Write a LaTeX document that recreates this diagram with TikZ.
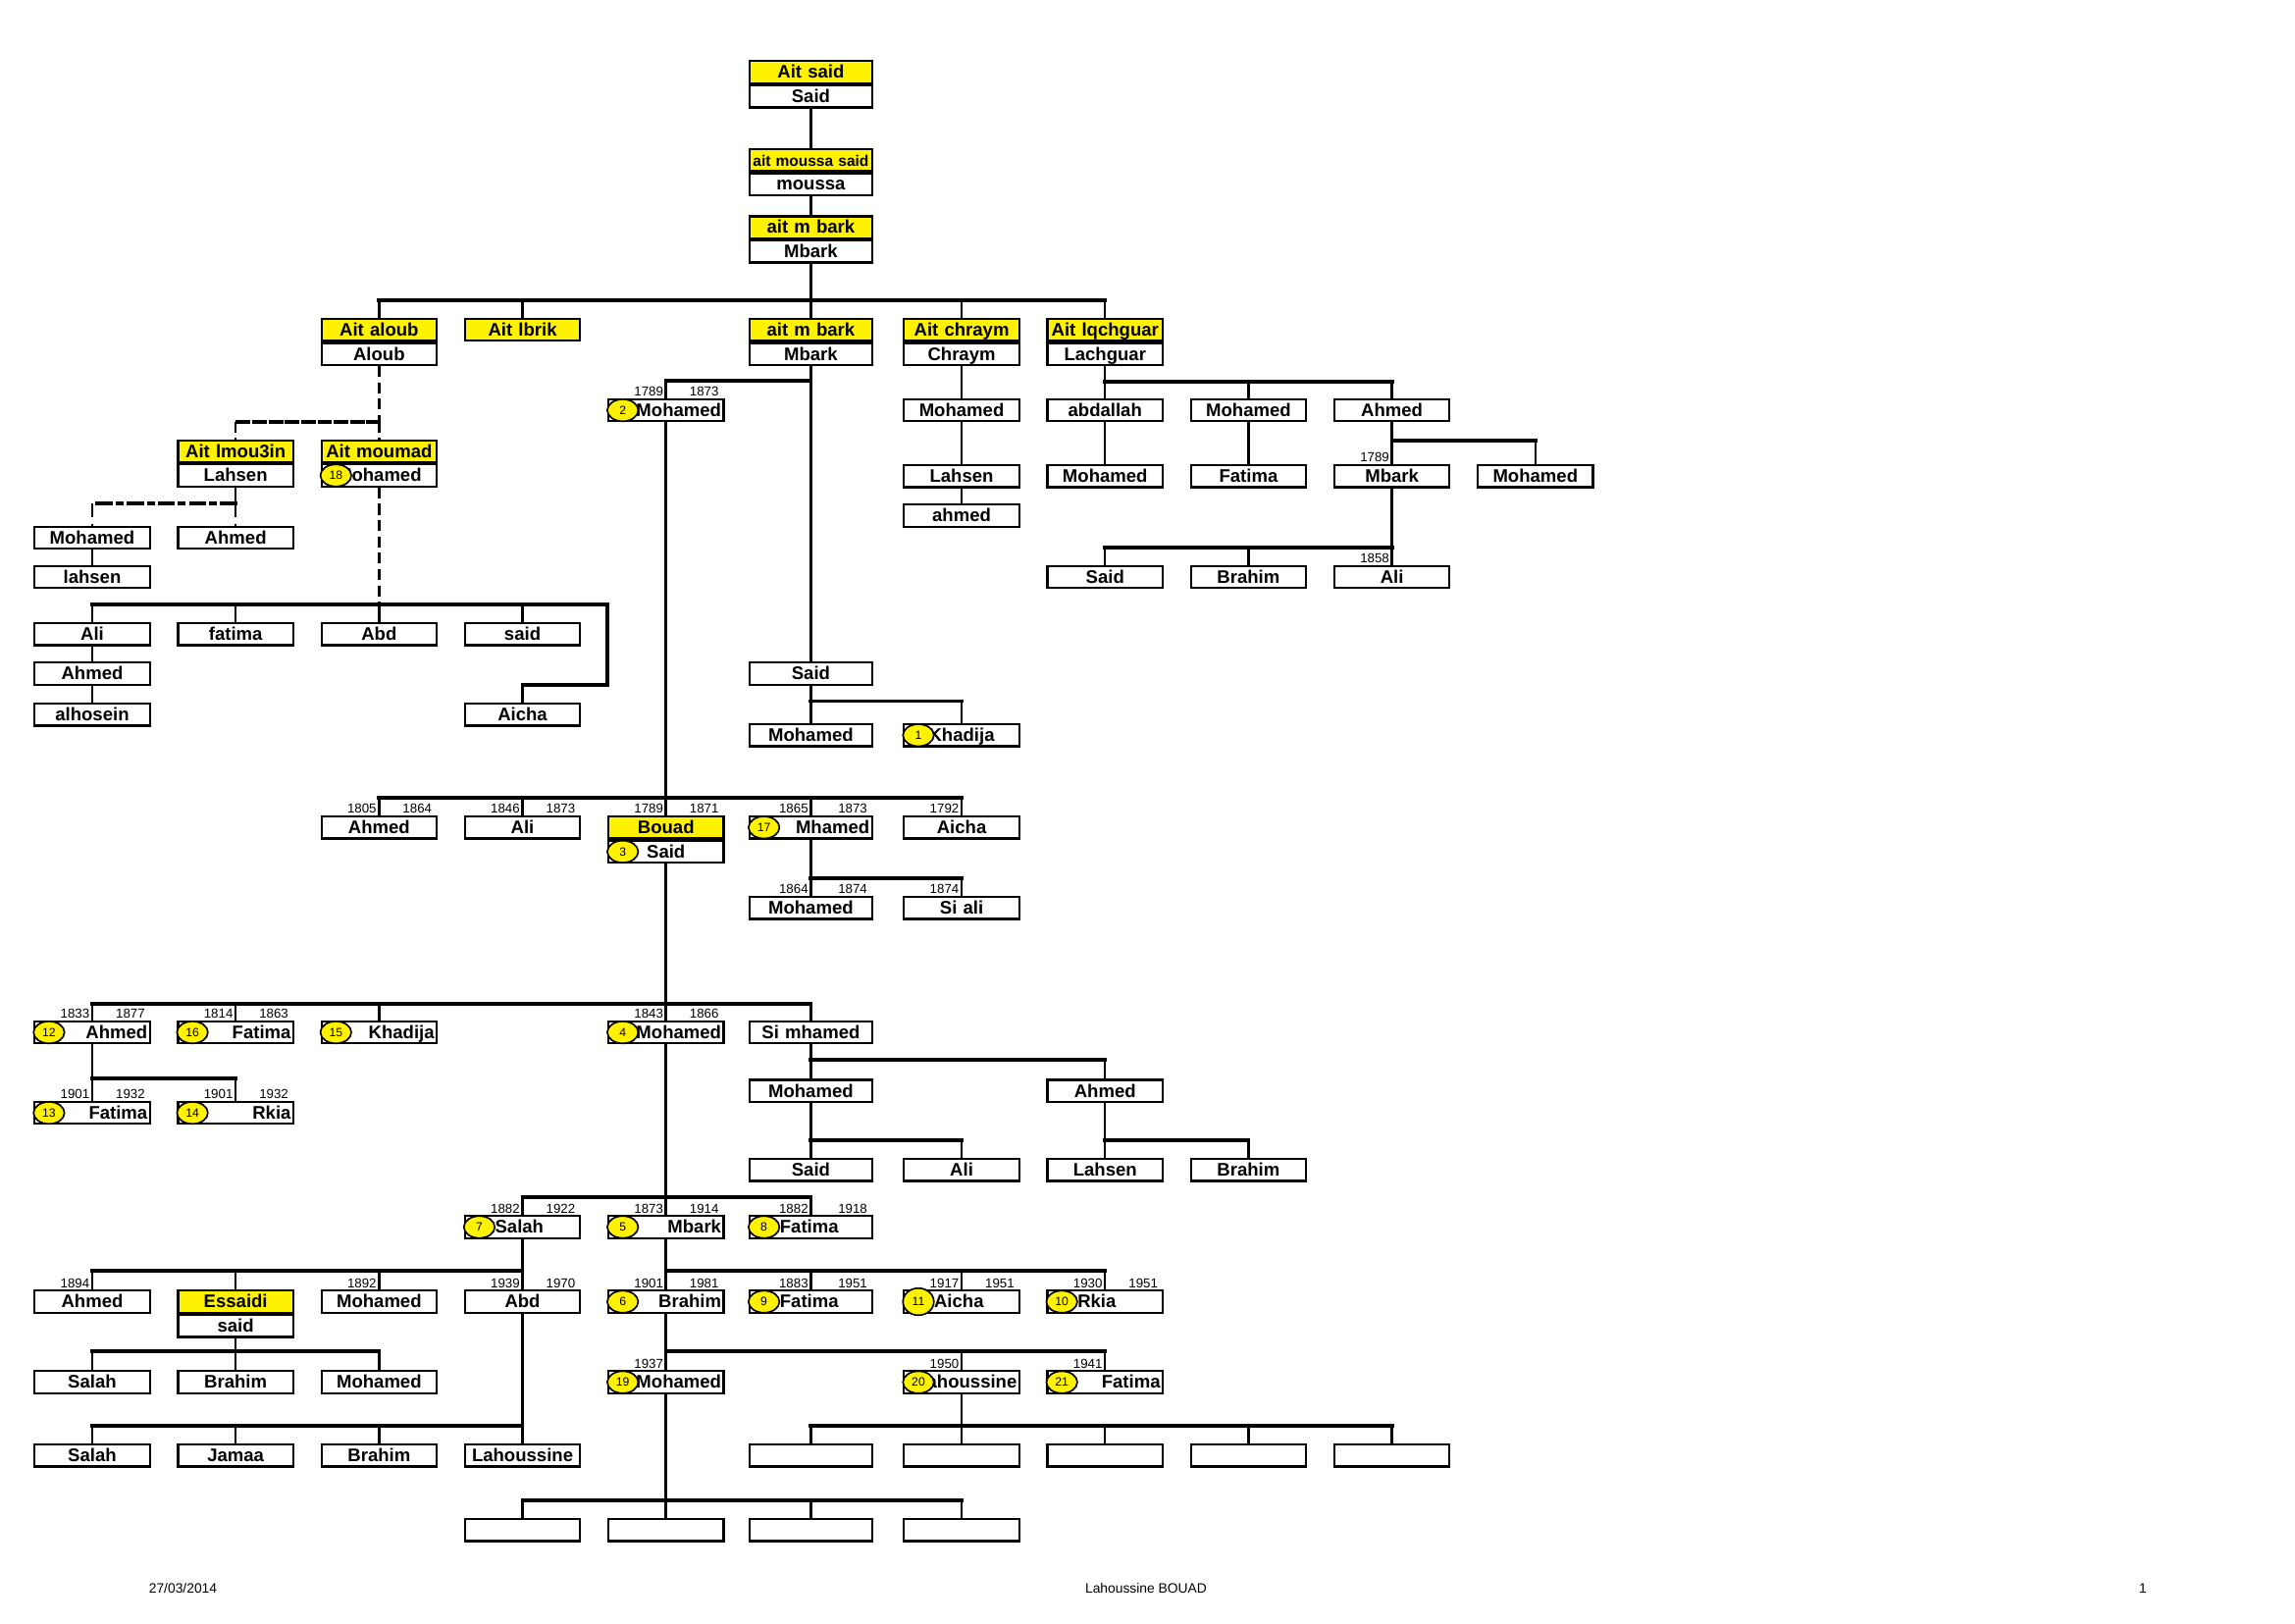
\documentclass[tikz,border=0pt]{standalone}
\usepackage{fontspec}
\setmainfont{Liberation Sans}
\usepackage{tikz}
\usetikzlibrary{positioning}
\usetikzlibrary{shapes.geometric}
\newcommand{\boxfont}{\fontsize{6.7}{7}\selectfont\bfseries}
\newcommand{\smallhead}{\fontsize{5.6}{6}\selectfont\bfseries}
\newcommand{\yrfont}{\fontsize{4.8}{5}\selectfont}
\newcommand{\ringfont}{\fontsize{4.4}{5}\selectfont}
\newcommand{\footfont}{\fontsize{5}{6}\selectfont}
\newcommand{\ringgap}{\hspace*{0.36cm}}
\newcommand{\pers}[5][]{\node[pbox,#1] (#2) at (#3,#4) {#5};}
\newcommand{\clan}[6][]{\node[pbox,head,#1] (#2) at (#3,#4) {#5};
  \node[pbox,#1,below=0pt of #2] (#2-b) {#6};}
\newcommand{\kin}[3][12]{\path (#3.north) ++(0,-#1) coordinate (#3-bus);
  \draw[upstem] (#2.south) -- (#2.south |- #3-bus);
  \draw[bus] (#2.south |- #3-bus) -- (#3-bus);
  \draw[stem] (#3-bus) -- (#3.north);}
\newcommand{\descend}[2]{\draw[stem] (#1.south) -- (#2.north);}
\newcommand{\yrborn}[2]{\node[yr,anchor=south east] (#1-born) at ([xshift=-0.3pt]#1.north) {#2};}
\newcommand{\yrdied}[2]{\node[yr,anchor=south east] (#1-died) at ([xshift=-1.5pt]#1.north east) {#2};}
\newcommand{\badge}[3][]{\node[ring,#1] (#2-ring) at ([xshift=0.2cm]#2.west) {#3};}
\tikzset{
  pbox/.style={draw, line width=0.8pt, fill=white, rectangle, anchor=north, inner sep=0pt,
    minimum width=1.49cm, minimum height=0.285cm, text width=1.43cm, align=center,
    text height=0.2cm, text depth=0.04cm, font=\boxfont},
  wide/.style={minimum width=1.585cm, text width=1.52cm},
  head/.style={fill=yellow},
  flushr/.style={align=right},
  flushl/.style={align=left},
  stem/.style={line width=0.9pt},
  upstem/.style={stem},
  bus/.style={line width=1.4pt, line cap=rect},
  broken/.style={dash pattern=on 4pt off 2pt},
  mixline/.style={dash pattern=on 5pt off 2.5pt on 1.5pt off 2.5pt},
  yr/.style={font=\yrfont, inner sep=0.5pt},
  ring/.style={ellipse, draw, line width=0.6pt, fill=yellow, minimum width=0.4cm,
    minimum height=0.285cm, inner sep=0pt, font=\ringfont},
  foot/.style={font=\footfont, inner sep=0pt}
}
\begin{document}
\begin{tikzpicture}[x=0.01894cm, y=-0.01894cm]
        \fill[white] (0,0) rectangle (1568,1109);
        \useasboundingbox (0,0) rectangle (1568,1109);
        %nodes
        \clan[wide]{aitsaid}{554}{41}{Ait said}{Said}
        \node[pbox,head,wide,font=\smallhead] (moussa) at (554,101) {ait moussa said};
        \node[pbox,wide,below=0pt of moussa] (moussa-b) {moussa};
        \clan[wide]{mbarkA}{554}{147}{ait m bark}{Mbark}
        \clan{aloub}{259}{217}{Ait aloub}{Aloub}
        \pers[head]{lbrik}{357}{217}{Ait lbrik}
        \clan[wide]{mbarkB}{554}{217}{ait m bark}{Mbark}
        \clan{chraym}{657}{217}{Ait chraym}{Chraym}
        \clan{lqch}{755}{217}{Ait lqchguar}{Lachguar}
        \pers[flushr]{moh2}{455}{272}{Mohamed}
        \pers{mohG}{657}{272}{Mohamed}
        \pers{abdallah}{755}{272}{abdallah}
        \pers{mohI}{853}{272}{Mohamed}
        \pers{ahmedJ}{951}{272}{Ahmed}
        \clan{lmou}{161}{300}{Ait lmou3in}{Lahsen}
        \clan{moumad}{259}{300}{Ait moumad}{Mohamed}
        \pers{lahsenG}{657}{317}{Lahsen}
        \pers{mohH}{755}{317}{Mohamed}
        \pers{fatimaI}{853}{317}{Fatima}
        \pers{mbarkJ}{951}{317}{Mbark}
        \pers{mohK}{1049}{317}{Mohamed}
        \pers{ahmedG}{657}{344}{ahmed}
        \pers{mohA}{63}{359}{Mohamed}
        \pers{ahmedB}{161}{359}{Ahmed}
        \pers{lahsenA}{63}{386}{lahsen}
        \pers{saidH}{755}{386}{Said}
        \pers{brahimI}{853}{386}{Brahim}
        \pers{aliJ}{951}{386}{Ali}
        \pers{aliA}{63}{425}{Ali}
        \pers{fatimaB}{161}{425}{fatima}
        \pers{abdC}{259}{425}{Abd}
        \pers{saidD}{357}{425}{said}
        \pers{ahmedA}{63}{452}{Ahmed}
        \pers[wide]{saidF}{554}{452}{Said}
        \pers{alhosein}{63}{480}{alhosein}
        \pers{aichaD}{357}{480}{Aicha}
        \pers[wide]{mohF}{554}{494}{Mohamed}
        \pers{khadija1}{657}{494}{Khadija}
        \pers{ahmedC}{259}{557}{Ahmed}
        \pers{aliD}{357}{557}{Ali}
        \clan{bouad}{455}{557}{Bouad}{Said}
        \pers[wide,flushr]{mhamed}{554}{557}{Mhamed}
        \pers{aichaG}{657}{557}{Aicha}
        \pers[wide]{mohF2}{554}{612}{Mohamed}
        \pers{siali}{657}{612}{Si ali}
        \pers[flushr]{ahmed12}{63}{697}{Ahmed}
        \pers[flushr]{fatima16}{161}{697}{Fatima}
        \pers[flushr]{khadija15}{259}{697}{Khadija}
        \pers[flushr]{moh4}{455}{697}{Mohamed}
        \pers[wide]{simhamed}{554}{697}{Si mhamed}
        \pers[wide]{mohF3}{554}{737}{Mohamed}
        \pers{ahmedH}{755}{737}{Ahmed}
        \pers[flushr]{fatima13}{63}{752}{Fatima}
        \pers[flushr]{rkia14}{161}{752}{Rkia}
        \pers[wide]{saidF2}{554}{791}{Said}
        \pers{aliG}{657}{791}{Ali}
        \pers{lahsenH}{755}{791}{Lahsen}
        \pers{brahimI2}{853}{791}{Brahim}
        \pers[flushl]{salah7}{357}{830}{\ringgap Salah}
        \pers[flushr]{mbark5}{455}{830}{Mbark}
        \pers[wide,flushl]{fatima8}{554}{830}{\ringgap Fatima}
        \pers{ahmedA2}{63}{881}{Ahmed}
        \clan{essaidi}{161}{881}{Essaidi}{said}
        \pers{mohC}{259}{881}{Mohamed}
        \pers{abdD}{357}{881}{Abd}
        \pers[flushr]{brahim6}{455}{881}{Brahim}
        \pers[wide,flushl]{fatima9}{554}{881}{\ringgap Fatima}
        \pers[flushl]{aicha11}{657}{881}{\ringgap Aicha}
        \pers[flushl]{rkia10}{755}{881}{\ringgap Rkia}
        \pers{salahA}{63}{936}{Salah}
        \pers{brahimB}{161}{936}{Brahim}
        \pers{mohC2}{259}{936}{Mohamed}
        \pers[flushr]{moh19}{455}{936}{Mohamed}
        \pers[flushr]{lahou20}{657}{936}{Lahoussine}
        \pers[flushr]{fatima21}{755}{936}{Fatima}
        \pers{salahA2}{63}{986}{Salah}
        \pers{jamaa}{161}{986}{Jamaa}
        \pers{brahimC}{259}{986}{Brahim}
        \pers{lahouD}{357}{986}{Lahoussine}
        \pers[wide]{kidF}{554}{986}{}
        \pers{kidG}{657}{986}{}
        \pers{kidH}{755}{986}{}
        \pers{kidI}{853}{986}{}
        \pers{kidJ}{951}{986}{}
        \pers{grandD}{357}{1037}{}
        \pers{grandE}{455}{1037}{}
        \pers[wide]{grandF}{554}{1037}{}
        \pers{grandG}{657}{1037}{}
        %edges
        \descend{aitsaid-b}{moussa}
        \descend{moussa-b}{mbarkA}
        \kin{mbarkA-b}{aloub} \kin{mbarkA-b}{lbrik} \kin{mbarkA-b}{mbarkB}
        \kin{mbarkA-b}{chraym} \kin{mbarkA-b}{lqch}
        \kin{mbarkB-b}{moh2}
        \descend{mbarkB-b}{saidF}
        \descend{chraym-b}{mohG} \descend{mohG}{lahsenG} \descend{lahsenG}{ahmedG}
        \kin[11]{lqch-b}{abdallah} \kin[11]{lqch-b}{mohI} \kin[11]{lqch-b}{ahmedJ}
        \descend{abdallah}{mohH} \descend{mohI}{fatimaI}
        \kin[16]{ahmedJ}{mbarkJ} \kin[16]{ahmedJ}{mohK}
        \kin{mbarkJ}{saidH} \kin{mbarkJ}{brahimI} \kin{mbarkJ}{aliJ}
        \begin{scope}[upstem/.style={stem,broken}, stem/.append style={broken}, bus/.append style={broken}]
          \kin{aloub-b}{lmou} \kin{aloub-b}{moumad}
        \end{scope}
        \begin{scope}[upstem/.style={stem,mixline}, stem/.append style={mixline}, bus/.append style={mixline}]
          \kin[15]{lmou-b}{mohA} \kin[15]{lmou-b}{ahmedB}
        \end{scope}
        \descend{mohA}{lahsenA}
        \begin{scope}[upstem/.style={stem,broken}]
          \kin{moumad-b}{aliA} \kin{moumad-b}{fatimaB} \kin{moumad-b}{abdC} \kin{moumad-b}{saidD}
        \end{scope}
        \path (aichaD.north) ++(0,-12) coordinate (aichaD-bus);
        \draw[bus] (saidD-bus) -- ++(58,0) |- (aichaD-bus);
        \draw[stem] (aichaD-bus) -- (aichaD.north);
        \descend{aliA}{ahmedA} \descend{ahmedA}{alhosein}
        \kin[15]{saidF}{mohF} \kin[15]{saidF}{khadija1}
        \kin{moh2}{ahmedC} \kin{moh2}{aliD} \kin{moh2}{bouad} \kin{moh2}{mhamed} \kin{moh2}{aichaG}
        \kin{mhamed}{mohF2} \kin{mhamed}{siali}
        \kin[11]{bouad-b}{ahmed12} \kin[11]{bouad-b}{fatima16} \kin[11]{bouad-b}{khadija15}
        \kin[11]{bouad-b}{moh4} \kin[11]{bouad-b}{simhamed}
        \kin[15]{ahmed12}{fatima13} \kin[15]{ahmed12}{rkia14}
        \kin[13]{simhamed}{mohF3} \kin[13]{simhamed}{ahmedH}
        \kin{mohF3}{saidF2} \kin{mohF3}{aliG}
        \kin{ahmedH}{lahsenH} \kin{ahmedH}{brahimI2}
        \kin{moh4}{salah7} \kin{moh4}{mbark5} \kin{moh4}{fatima8}
        \kin[13]{salah7}{ahmedA2} \kin[13]{salah7}{essaidi} \kin[13]{salah7}{mohC} \kin[13]{salah7}{abdD}
        \kin[13]{mbark5}{brahim6} \kin[13]{mbark5}{fatima9} \kin[13]{mbark5}{aicha11} \kin[13]{mbark5}{rkia10}
        \kin[13]{essaidi-b}{salahA} \kin[13]{essaidi-b}{brahimB} \kin[13]{essaidi-b}{mohC2}
        \kin[13]{brahim6}{moh19} \kin[13]{brahim6}{lahou20} \kin[13]{brahim6}{fatima21}
        \kin{abdD}{salahA2} \kin{abdD}{jamaa} \kin{abdD}{brahimC} \kin{abdD}{lahouD}
        \kin{lahou20}{kidF} \kin{lahou20}{kidG} \kin{lahou20}{kidH} \kin{lahou20}{kidI} \kin{lahou20}{kidJ}
        \kin{moh19}{grandD} \kin{moh19}{grandE} \kin{moh19}{grandF} \kin{moh19}{grandG}
        %dates
        \yrborn{moh2}{1789} \yrdied{moh2}{1873}
        \yrborn{mbarkJ}{1789} \yrborn{aliJ}{1858}
        \yrborn{ahmedC}{1805} \yrdied{ahmedC}{1864}
        \yrborn{aliD}{1846} \yrdied{aliD}{1873}
        \yrborn{bouad}{1789} \yrdied{bouad}{1871}
        \yrborn{mhamed}{1865} \yrdied{mhamed}{1873}
        \yrborn{aichaG}{1792}
        \yrborn{mohF2}{1864} \yrdied{mohF2}{1874}
        \yrborn{siali}{1874}
        \yrborn{ahmed12}{1833} \yrdied{ahmed12}{1877}
        \yrborn{fatima16}{1814} \yrdied{fatima16}{1863}
        \yrborn{moh4}{1843} \yrdied{moh4}{1866}
        \yrborn{fatima13}{1901} \yrdied{fatima13}{1932}
        \yrborn{rkia14}{1901} \yrdied{rkia14}{1932}
        \yrborn{salah7}{1882} \yrdied{salah7}{1922}
        \yrborn{mbark5}{1873} \yrdied{mbark5}{1914}
        \yrborn{fatima8}{1882} \yrdied{fatima8}{1918}
        \yrborn{ahmedA2}{1894} \yrborn{mohC}{1892}
        \yrborn{abdD}{1939} \yrdied{abdD}{1970}
        \yrborn{brahim6}{1901} \yrdied{brahim6}{1981}
        \yrborn{fatima9}{1883} \yrdied{fatima9}{1951}
        \yrborn{aicha11}{1917} \yrdied{aicha11}{1951}
        \yrborn{rkia10}{1930} \yrdied{rkia10}{1951}
        \yrborn{moh19}{1937} \yrborn{lahou20}{1950} \yrborn{fatima21}{1941}
        %numbers
        \badge{moh2}{2} \badge{moumad-b}{18} \badge{khadija1}{1} \badge{bouad-b}{3}
        \badge{mhamed}{17} \badge{ahmed12}{12} \badge{fatima16}{16} \badge{khadija15}{15}
        \badge{moh4}{4} \badge{fatima13}{13} \badge{rkia14}{14} \badge{salah7}{7}
        \badge{mbark5}{5} \badge{fatima8}{8} \badge{brahim6}{6} \badge{fatima9}{9}
        \badge[minimum height=0.35cm]{aicha11}{11} \badge{rkia10}{10} \badge{moh19}{19}
        \badge{lahou20}{20} \badge{fatima21}{21}
        %footer
        \node[foot] (stamp) at (125,1085) {27/03/2014};
        \node[foot] (owner) at (783,1085) {Lahoussine BOUAD};
        \node[foot] (folio) at (1464,1085) {1};
\end{tikzpicture}
\end{document}
